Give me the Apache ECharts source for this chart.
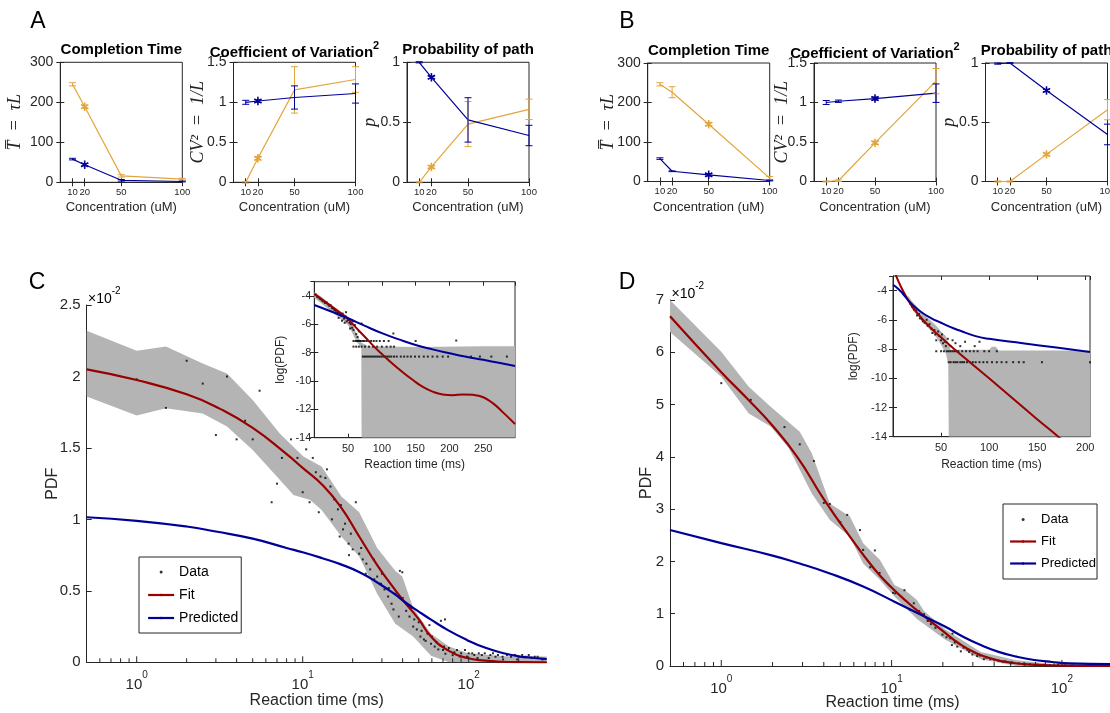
<!DOCTYPE html>
<html><head><meta charset="utf-8">
<script src="https://cdn.jsdelivr.net/npm/echarts@6.0.0/dist/echarts.min.js"></script>
<style>html,body{margin:0;padding:0;background:#fff}#c{width:1110px;height:713px}</style>
</head><body><div id="c"></div><script>
// ================= DATA =================
const conc = [10, 20, 50, 100];
const aTimeOrange = [245, 189, 16, 8],      aTimeOrangeErr = [4, 4, 3, 2];
const aTimeBlue   = [58, 44, 5, 2],         aTimeBlueErr   = [2, 3, 2, 1];
const aCvOrange   = [0, 0.30, 1.155, 1.285],aCvOrangeErr   = [0.01, 0.02, 0.29, 0.16];
const aCvBlue     = [1.0, 1.016, 1.06, 1.11], aCvBlueErr   = [0.025, 0.015, 0.145, 0.12];
const aPOrange    = [0, 0.128, 0.485, 0.608], aPOrangeErr  = [0.005, 0.01, 0.188, 0.085];
const aPBlue      = [1.0, 0.875, 0.52, 0.39], aPBlueErr    = [0.005, 0.01, 0.185, 0.085];
const bTimeOrange = [246, 226, 145, 8.5],   bTimeOrangeErr = [4, 14, 4, 4];
const bTimeBlue   = [58, 26, 17, 2.5],      bTimeBlueErr   = [2, 1, 3, 1];
const bCvOrange   = [0, 0.01, 0.489, 1.27], bCvOrangeErr   = [0.005, 0.01, 0.02, 0.16];
const bCvBlue     = [1.0, 1.016, 1.05, 1.118], bCvBlueErr  = [0.025, 0.015, 0.02, 0.117];
const bPOrange    = [0, 0, 0.229, 0.606],   bPOrangeErr    = [0.005, 0.005, 0.01, 0.085];
const bPBlue      = [0.995, 1.0, 0.768, 0.397], bPBlueErr  = [0.005, 0.003, 0.01, 0.087];
const starA = 1, starB = 2;

// Panel C main (x in ms, y in units of 1e-2)
const cFit = [[0.5,2.05],[1,1.975],[2,1.875],[3.16,1.775],[5,1.64],[7.94,1.46],[10,1.36],[13.3,1.235],[17.1,1.08],[21.9,0.88],[28.1,0.68],[36.1,0.505],[41.9,0.41],[50.1,0.3],[59.3,0.18],[75.9,0.08],[97.7,0.03],[126,0.012],[158,0.004],[200,0.001],[295,0]];
const cPred = [[0.5,1.015],[1,0.99],[2,0.95],[3,0.915],[5,0.865],[8,0.8],[10,0.77],[13,0.73],[17,0.685],[22,0.63],[28,0.56],[36,0.475],[42,0.415],[50,0.355],[59,0.3],[75,0.225],[98,0.155],[125,0.103],[160,0.065],[200,0.042],[250,0.03],[295,0.022]];
const cBandUp = [[0.5,2.32],[1,2.18],[1.5,2.21],[2.5,2.09],[3.5,2.02],[5,1.835],[7.3,1.6],[10.1,1.44],[13,1.37],[17.1,1.16],[21.9,1.05],[28.1,0.8],[36.1,0.64],[39.8,0.6],[46.3,0.38],[59.3,0.2],[76.2,0.11],[97.7,0.065],[161,0.042],[295,0.04]];
const cBandLo = [[0.5,1.86],[1,1.726],[1.5,1.777],[2.5,1.74],[3.5,1.65],[5,1.486],[7.3,1.276],[8.8,1.17],[11.1,1.136],[13,1.066],[17.1,0.88],[21.9,0.74],[28.1,0.48],[36.1,0.27],[46.3,0.18],[59.3,0.046],[76.2,0],[295,0]];
const cData = [[1,1.98],[1.5,1.78],[2,2.11],[2.5,1.95],[3,1.59],[3.5,2.0],[4,1.56],[4.5,1.69],[5,1.56],[5.5,1.9],[6.5,1.12],[7,1.25],[7.5,1.43],[8.5,1.56],[9.3,1.43],[10,1.19],[10.5,1.49],[11,1.12],[11.5,1.43],[12,1.33],[12.5,1.05],[12.8,1.3],
[13.7,1.29],[14,1.35],[14.7,1.23],[15,1.0],[15.5,1.14],[16.3,1.07],[16.7,0.88],[17,1.1],[17.5,0.93],[18,0.97],[18.9,0.83],[19,0.75],[19.5,0.9],[20,0.79],[20.9,1.12],[21.9,0.76],[22.5,0.8],[23,0.72],[24,0.62],[24.2,0.69],[25.5,0.65],[26.8,0.72],[27,0.58],[28.1,0.6],[29.6,0.55],[30,0.62],[31.1,0.51],[32.7,0.46],[33,0.52],[34.3,0.41],[35.2,0.37],[36,0.48],[37.9,0.32],[38.5,0.64],[39.8,0.63],[40,0.45],[41.9,0.41],[42,0.36],[44,0.32],[45,0.38],[46.3,0.25],[47,0.3],[48.7,0.23],[50,0.28],[51.2,0.18],[52,0.22],[53.7,0.16],[55,0.15],[56.5,0.2],[58,0.26],[59.3,0.13],[60,0.18],[62.4,0.11],[64,0.14],[65.6,0.09],[67,0.12],[68,0.29],[70,0.086],[71,0.11],[72,0.3],[72.4,0.06],[75,0.086],[76,0.1],[80.1,0.05],[82,0.07],[85,0.086],[88.4,0.04],[90,0.063],[95,0.086],[97.7,0.04],[100,0.063],[105,0.063],[108,0.051],[113,0.03],[115,0.063],[120,0.051],[125,0.063],[132,0.03],[135,0.051],[140,0.063],[145,0.039],[150,0.051],[160,0.039],[161,0.02],[170,0.051],[180,0.039],[190,0.051],[196,0.02],[200,0.039],[210,0.051],[220,0.039],[230,0.051],[239,0.03],[250,0.039],[260,0.039],[278,0.02]];

// Panel C inset (x in ms, y = log(PDF))
const icFit = [[0,-3.86],[20,-4.55],[40,-5.25],[50,-5.65],[60,-6.15],[75,-6.9],[90,-7.65],[100,-8.1],[115,-8.75],[130,-9.35],[145,-9.9],[160,-10.4],[175,-10.75],[190,-10.95],[205,-11.0],[220,-10.95],[235,-10.98],[250,-11.15],[265,-11.6],[280,-12.25],[297,-13.03]];
const icPred = [[0,-4.64],[25,-5.1],[50,-5.58],[75,-6.12],[100,-6.63],[125,-7.07],[150,-7.46],[175,-7.77],[200,-8.04],[225,-8.29],[250,-8.51],[275,-8.74],[297,-8.94]];
const icBandUp = [[0,-3.75],[10,-4.05],[20,-4.45],[30,-4.85],[40,-5.15],[50,-5.45],[55,-5.8],[60,-6.4],[65,-6.9],[70,-7.3],[80,-7.55],[150,-7.6],[250,-7.55],[297,-7.55]];
const icBandLo = [[0,-4.15],[10,-4.5],[20,-4.9],[30,-5.3],[40,-5.65],[50,-6.05],[55,-6.5],[60,-7.0],[65,-7.4],[69.5,-7.6],[70,-14],[297,-14]];
const icData = [[2,-3.9],[4,-4.05],[6,-4.1],[8,-4.2],[10,-4.25],[12,-4.35],[14,-4.4],[16,-4.5],[18,-4.45],[20,-4.6],[22,-4.7],[24,-4.65],[26,-4.85],[28,-4.9],[30,-5.0],[32,-5.05],[34,-5.2],[36,-5.15],[38,-5.3],[40,-5.4],[42,-5.25],[44,-5.6],[46,-5.45],[48,-5.8],[50,-5.7],[52,-5.9],[54,-6.0],[56,-6.25],[58,-6.4],[60,-6.05],[62,-6.7],[64,-6.9],[66,-6.5],[57,-5.8],[53,-6.3],[47,-5.15],[45,-5.9],[41,-5.75],[36,-5.55],[70,-5.95],[117,-6.65],[150,-7.18],[210,-7.15],
[58,-7.18],[61,-7.18],[63,-7.18],[65,-7.18],[67,-7.18],[69,-7.18],[72,-7.18],[74,-7.18],[77,-7.18],[80,-7.18],[84,-7.18],[88,-7.18],[92,-7.18],[97,-7.18],[103,-7.18],[110,-7.18],
[58,-7.58],[62,-7.58],[66,-7.58],[70,-7.58],[75,-7.58],[81,-7.58],[87,-7.58],[93,-7.58],[100,-7.58],[107,-7.58],[113,-7.58],[118,-7.58],
[72,-8.28],[75,-8.28],[78,-8.28],[81,-8.28],[84,-8.28],[87,-8.28],[90,-8.28],[93,-8.28],[96,-8.28],[99,-8.28],[102,-8.28],[105,-8.28],[108,-8.28],[111,-8.28],[114,-8.28],[118,-8.28],[122,-8.28],[128,-8.28],[133,-8.28],[138,-8.28],[143,-8.28],[149,-8.28],[155,-8.28],[162,-8.28],[168,-8.28],[175,-8.28],[182,-8.28],[190,-8.28],[198,-8.28],[232,-8.28],[245,-8.28],[262,-8.28],[285,-8.28]];

// Panel D main
const dFit = [[0.5,6.69],[1,5.62],[1.413,5.12],[1.995,4.6],[2.818,3.98],[3.981,3.2],[5.623,2.5],[7.943,1.85],[10,1.5],[12.59,1.2],[15.85,0.93],[19.95,0.67],[25.12,0.42],[31.62,0.24],[39.81,0.13],[50.12,0.065],[63.1,0.03],[100,0.008],[205,0]];
const dPred = [[0.5,2.6],[1,2.35],[1.95,2.12],[2.89,1.96],[4.34,1.77],[6.81,1.52],[10.4,1.23],[15.5,0.95],[20.7,0.75],[26.3,0.56],[33.4,0.4],[42.5,0.27],[54,0.18],[68.8,0.115],[87.5,0.077],[111,0.05],[205,0.035]];
const dBandUp = [[0.5,7.0],[1,6.01],[1.45,5.34],[1.95,4.96],[2.89,4.48],[3.4,4.07],[4.34,3.11],[5.69,2.86],[6.81,2.35],[8.53,2.03],[10.4,1.55],[12,1.45],[14.1,1.26],[15.5,1.05],[20.7,0.7],[33.4,0.27],[54,0.11],[87.5,0.04],[205,0.03]];
const dBandLo = [[0.5,6.39],[1,5.53],[1.45,4.83],[1.95,4.58],[2.5,4.16],[3.4,3.3],[4.34,2.79],[5.69,2.47],[6.81,1.96],[8.53,1.65],[10.4,1.33],[14.1,0.9],[20.7,0.5],[33.4,0.13],[54,0],[205,0]];
const dData = [[1,5.41],[1.49,5.09],[2.35,4.57],[2.89,4.24],[3.5,3.92],[4,3.12],[4.34,3.1],[5,2.75],[5.49,2.89],[6.52,2.6],[6.81,2.22],[7.5,1.89],[7.98,2.21],[8.5,1.78],[10.2,1.4],[10.5,1.39],[11.9,1.45],[12.8,1.08],[13.5,1.2],[14.5,1.05],[15.5,0.99],[16.3,0.86],[17,0.8],[18.1,0.73],[19.9,0.6],[21,0.55],[22.1,0.53],[22.6,0.4],[22.8,0.62],[23.5,0.45],[24.3,0.37],[25.5,0.28],[26.5,0.35],[27.9,0.31],[28.5,0.27],[29.8,0.22],[31.8,0.19],[33,0.2],[34.8,0.13],[36,0.16],[38,0.13],[40,0.12],[42.5,0.1],[45,0.08],[46.5,0.09],[50,0.06],[51,0.07],[55.8,0.05],[60,0.04],[61,0.03],[65,0.03],[68.8,0.02],[72,0.025],[78,0.02],[85,0.015],[95,0.02],[104,0.01],[115,0.01],[137,0.01],[150,0.008],[170,0.01],[190,0.005]];

// Panel D inset
const idFit = [[2.8,-2.92],[8,-3.7],[14,-4.45],[20,-5.1],[26,-5.6],[32,-6.05],[40,-6.6],[50,-7.2],[63.6,-8.0],[100,-10.0],[150,-12.8],[172,-14.0],[205,-15.85]];
const idPred = [[0,-3.6],[5,-3.85],[10,-4.2],[15,-4.6],[20,-4.95],[30,-5.5],[40,-5.9],[50,-6.2],[60,-6.5],[70,-6.75],[85,-7.1],[100,-7.3],[135,-7.6],[170,-7.9],[205,-8.2]];
const idBandUp = [[15,-4.3],[20,-4.75],[25,-5.1],[30,-5.5],[35,-5.8],[40,-6.1],[45,-6.4],[50,-6.8],[55,-7.1],[57,-7.5],[60,-8.05],[100,-8.05],[103,-7.85],[107,-7.85],[110,-8.1],[205,-8.1]];
const idBandLo = [[15,-4.6],[20,-5.3],[30,-6.1],[40,-6.8],[45,-7.2],[50,-7.7],[55,-8.3],[57.5,-9.0],[58,-14],[205,-14]];
const idData = [[18,-4.9],[20,-5.1],[22,-5.3],[24,-5.4],[25,-5.7],[27,-5.6],[28,-5.9],[30,-5.95],[31,-6.1],[33,-6.2],[35,-6.0],[36,-6.4],[38,-6.3],[40,-6.6],[41,-6.9],[43,-6.7],[44,-7.0],[45,-7.4],[47,-6.8],[48,-7.1],[50,-7.4],[51,-7.0],[52,-7.6],[54,-7.5],[55,-7.8],[57,-7.3],[60,-7.8],[62,-7.4],[65,-7.6],[70,-7.8],[75,-7.5],[85,-7.8],[90,-7.5],
[45,-8.15],[50,-8.15],[53,-8.15],[56,-8.15],[58,-8.15],[60,-8.15],[62,-8.15],[64,-8.15],[66,-8.15],[68,-8.15],[72,-8.15],[76,-8.15],[80,-8.15],[84,-8.15],[88,-8.15],[95,-8.15],[100,-8.15],[108,-8.15],
[58,-8.9],[60,-8.9],[63,-8.9],[65,-8.9],[67,-8.9],[70,-8.9],[72,-8.9],[74,-8.9],[77,-8.9],[80,-8.9],[83,-8.9],[86,-8.9],[90,-8.9],[94,-8.9],[98,-8.9],[103,-8.9],[108,-8.9],[113,-8.9],[118,-8.9],[125,-8.9],[131,-8.9],[136,-8.9],[155,-8.9],[205,-8.9]];

const logMajor = [1, 10, 100];
const logMinor = [0.6,0.7,0.8,0.9,2,3,4,5,6,7,8,9,20,30,40,50,60,70,80,90,200];

// ================= STYLE / BUILD =================
const FONT = '"Liberation Sans", Arial, Helvetica, sans-serif';
const SERIF = '"Liberation Serif", "DejaVu Serif", serif';
const AX = '#262626', ORANGE = '#E3A53A', BLUE = '#000099', RED = '#990000', BAND = '#b4b4b4';

function merge(a, b) {
  for (const k in b) {
    if (b[k] && typeof b[k] === 'object' && !Array.isArray(b[k]) && a[k] && typeof a[k] === 'object') merge(a[k], b[k]);
    else a[k] = b[k];
  }
  return a;
}
const grids = [], xAxis = [], yAxis = [], series = [], graphic = [];

function baseAxis(extra) {
  return merge({
    nameMoveOverlap: false,
    axisLine: {show: true, onZero: false, lineStyle: {color: AX, width: 1}},
    axisTick: {show: true, inside: true, length: 4, lineStyle: {color: AX, width: 1}},
    axisLabel: {color: AX, fontFamily: FONT},
    splitLine: {show: false},
    nameTextStyle: {color: AX, fontFamily: FONT}
  }, extra);
}
function mirror(ax, pos) {
  return {gridIndex: ax.gridIndex, type: ax.type, min: ax.min, max: ax.max, interval: ax.interval, position: pos, z: ax.z,
    nameMoveOverlap: false, axisLine: {show: false},
    axisTick: {show: true, inside: true, length: ax.axisTick.length, lineStyle: {color: AX, width: 1}, customValues: ax.axisTick.customValues},
    axisLabel: {show: false}, splitLine: {show: false}};
}
function panel(o) {
  const g = grids.length;
  grids.push({left: o.left, top: o.top, width: o.width, height: o.height, show: !!o.box, borderColor: AX, borderWidth: 1,
    containLabel: false, outerBoundsMode: 'none',
    backgroundColor: o.box ? '#fff' : 'transparent', z: o.z || 0});
  const xi = xAxis.length, yi = yAxis.length;
  const xa = baseAxis(merge({gridIndex: g, position: 'bottom', z: o.z || 0}, o.x));
  const ya = baseAxis(merge({gridIndex: g, position: 'left', z: o.z || 0}, o.y));
  xAxis.push(xa); yAxis.push(ya);
  if (o.box) { xAxis.push(mirror(xa, 'top')); yAxis.push(mirror(ya, 'right')); }
  return {xi, yi};
}

function errorSeries(ax, ys, errs, color, starIdx) {
  return {type: 'custom', xAxisIndex: ax.xi, yAxisIndex: ax.yi, z: 4, silent: true, clip: false,
    data: conc.map((c, i) => [c, ys[i], errs[i], i === starIdx ? 1 : 0]),
    renderItem: function (params, api) {
      const x = api.value(0), y = api.value(1), e = api.value(2);
      const p = api.coord([x, y]), t = api.coord([x, y + e]), b = api.coord([x, y - e]);
      const cw = 3.5;
      const ch = [
        {type: 'line', shape: {x1: p[0], y1: t[1], x2: p[0], y2: b[1]}, style: {stroke: color, lineWidth: 1}},
        {type: 'line', shape: {x1: p[0] - cw, y1: t[1], x2: p[0] + cw, y2: t[1]}, style: {stroke: color, lineWidth: 1}},
        {type: 'line', shape: {x1: p[0] - cw, y1: b[1], x2: p[0] + cw, y2: b[1]}, style: {stroke: color, lineWidth: 1}}
      ];
      if (api.value(3)) {
        const r = 4.2;
        [0, 60, 120].forEach(function (a) {
          const rad = a * Math.PI / 180;
          ch.push({type: 'line', shape: {x1: p[0] - r * Math.sin(rad), y1: p[1] - r * Math.cos(rad), x2: p[0] + r * Math.sin(rad), y2: p[1] + r * Math.cos(rad)},
            style: {stroke: color, lineWidth: 1.6}});
        });
      }
      return {type: 'group', children: ch};
    }};
}
function lineSeries(ax, data, color, width, z, name, smooth) {
  return {type: 'line', name: name, xAxisIndex: ax.xi, yAxisIndex: ax.yi, data: data, symbol: 'none', showSymbol: false,
    smooth: smooth || false, lineStyle: {color: color, width: width}, itemStyle: {color: color}, z: z, silent: true};
}
function bandSeries(ax, upper, lower, z) {
  return {type: 'custom', xAxisIndex: ax.xi, yAxisIndex: ax.yi, z: z, silent: true, clip: true,
    data: [upper[0]],
    renderItem: function (params, api) {
      const pts = upper.map(p => api.coord(p)).concat(lower.slice().reverse().map(p => api.coord(p)));
      return {type: 'polygon', shape: {points: pts}, style: {fill: BAND}};
    }};
}
function dotSeries(ax, data, z, name) {
  return {type: 'scatter', name: name, xAxisIndex: ax.xi, yAxisIndex: ax.yi, data: data, symbol: 'rect', symbolSize: 2,
    itemStyle: {color: '#000'}, z: z, silent: true};
}
function logTickSeries(ax, majors, minors) {
  const data = majors.map(v => [v, 1]).concat(minors.map(v => [v, 0]));
  return {type: 'custom', xAxisIndex: ax.xi, yAxisIndex: ax.yi, silent: true, clip: false, z: 6, data: data,
    renderItem: function (params, api) {
      const p = api.coord([api.value(0), 0]);
      const len = api.value(1) ? 6 : 4;
      return {type: 'line', shape: {x1: p[0], y1: p[1], x2: p[0], y2: p[1] - len}, style: {stroke: AX, lineWidth: 1}};
    }};
}
function text(x, y, str, opts) {
  graphic.push(merge({type: 'text', x: x, y: y, z: 30, style: {text: str, fill: '#000', font: '15px ' + FONT, align: 'center', verticalAlign: 'middle'}}, opts || {}));
}

// ---- top small panels ----
function topPanel(left, top, height, yMax, yInt, yName, nameGap, oVals, oErr, bVals, bErr, star, title, titleRich) {
  const ax = panel({left: left, top: top, width: 122, height: height, box: true,
    x: {type: 'value', min: 0, max: 100,
        axisTick: {customValues: conc}, axisLabel: {customValues: conc, fontSize: 9.5, margin: 5},
        name: 'Concentration (uM)', nameLocation: 'middle', nameGap: 19, nameTextStyle: {fontSize: 13}},
    y: {type: 'value', min: 0, max: yMax, interval: yInt,
        axisLabel: {fontSize: 14, margin: 7},
        name: yName, nameLocation: 'middle', nameGap: nameGap,
        nameTextStyle: {fontFamily: SERIF, fontStyle: 'italic', fontSize: 18, color: '#222'}}});
  series.push(lineSeries(ax, conc.map((c, i) => [c, oVals[i]]), ORANGE, 1.2, 3));
  series.push(lineSeries(ax, conc.map((c, i) => [c, bVals[i]]), BLUE, 1.2, 3));
  series.push(errorSeries(ax, oVals, oErr, ORANGE, star));
  series.push(errorSeries(ax, bVals, bErr, BLUE, star));
  text(left + 61, top - 12, title, {style: {font: 'bold 15px ' + FONT, rich: titleRich}});
}
const supRich = {t: {fontWeight: 'bold', fontSize: 15, fontFamily: FONT, lineHeight: 20, verticalAlign: 'bottom'},
                 s: {fontWeight: 'bold', fontSize: 11, fontFamily: FONT, lineHeight: 11, verticalAlign: 'top'}};
const yT = 'T\u0305  =  \u03C4L', yCV = 'CV\u00B2  =  1/L', yP = 'p';
topPanel(60.3, 62.3, 120, 300, 100, yT, 36, aTimeOrange, aTimeOrangeErr, aTimeBlue, aTimeBlueErr, starA, 'Completion Time');
topPanel(233.5, 62.3, 120, 1.5, 0.5, yCV, 26, aCvOrange, aCvOrangeErr, aCvBlue, aCvBlueErr, starA, '{t|Coefficient of Variation}{s|2}', supRich);
topPanel(407, 62.3, 120, 1, 0.5, yP, 28, aPOrange, aPOrangeErr, aPBlue, aPBlueErr, starA, 'Probability of path');
topPanel(647.7, 63, 118.5, 300, 100, yT, 30, bTimeOrange, bTimeOrangeErr, bTimeBlue, bTimeBlueErr, starB, 'Completion Time');
topPanel(814, 63, 118.5, 1.5, 0.5, yCV, 23, bCvOrange, bCvOrangeErr, bCvBlue, bCvBlueErr, starB, '{t|Coefficient of Variation}{s|2}', supRich);
topPanel(985.5, 63, 118.5, 1, 0.5, yP, 27, bPOrange, bPOrangeErr, bPBlue, bPBlueErr, starB, 'Probability of path');

// ---- main panels ----
const logRich = {b: {fontSize: 15, fontFamily: FONT, color: AX, lineHeight: 22, verticalAlign: 'bottom'},
                 s: {fontSize: 10, fontFamily: FONT, color: AX, lineHeight: 10, verticalAlign: 'top'}};
function logFmt(v) {
  const l = Math.log10(v);
  if (Math.abs(l - Math.round(l)) < 1e-6) return '{b|10}{s|' + Math.round(l) + '}';
  return '';
}
function mainPanel(left, top, width, height, xMax, yMax, yInt, yGap, xGap) {
  return panel({left: left, top: top, width: width, height: height, box: false,
    x: {type: 'log', logBase: 10, min: 0.5, max: xMax, axisTick: {show: false},
        axisLabel: {formatter: logFmt, rich: logRich, margin: 8},
        name: 'Reaction time (ms)', nameLocation: 'middle', nameGap: xGap, nameTextStyle: {fontSize: 16}},
    y: {type: 'value', min: 0, max: yMax, interval: yInt, axisTick: {length: 5},
        axisLabel: {fontSize: 15, margin: 6},
        name: 'PDF', nameLocation: 'middle', nameGap: yGap, nameTextStyle: {fontSize: 16}}});
}
function insetPanel(left, top, width, height, xMax, nameGapY, labelMargin, nameGapX) {
  return panel({left: left, top: top, width: width, height: height, box: true, z: 5,
    x: {type: 'value', min: 0, max: xMax, interval: 50,
        axisLabel: {fontSize: 11, margin: 6, showMinLabel: false, showMaxLabel: false},
        name: 'Reaction time (ms)', nameLocation: 'middle', nameGap: nameGapX, nameTextStyle: {fontSize: 12}},
    y: {type: 'value', min: -14, max: -3, interval: 2,
        axisLabel: {fontSize: 11, margin: labelMargin, showMaxLabel: false},
        name: 'log(PDF)', nameLocation: 'middle', nameGap: nameGapY, nameTextStyle: {fontSize: 12}}});
}

// C
const cAx = mainPanel(86.7, 305, 460, 357.3, 295, 2.5, 0.5, 26, 30);
series.push(bandSeries(cAx, cBandUp, cBandLo, 1));
series.push(dotSeries(cAx, cData, 3, 'Data'));
series.push(lineSeries(cAx, cFit, RED, 2.2, 4, 'Fit', 0.5));
series.push(lineSeries(cAx, cPred, BLUE, 2.2, 4, 'Predicted', 0.5));
series.push(logTickSeries(cAx, logMajor, logMinor));
const icAx = insetPanel(314.3, 281.7, 200.7, 156, 297, 28, 3, 21);
series.push(bandSeries(icAx, icBandUp, icBandLo, 7));
series.push(dotSeries(icAx, icData, 8));
series.push(lineSeries(icAx, icFit, RED, 2, 9, null, 0.5));
series.push(lineSeries(icAx, icPred, BLUE, 2, 9, null, 0.5));

// D
const dAx = mainPanel(670, 300, 445, 366, 205, 7, 1, 15, 29);
series.push(bandSeries(dAx, dBandUp, dBandLo, 1));
series.push(dotSeries(dAx, dData, 3));
series.push(lineSeries(dAx, dFit, RED, 2.2, 4, null, 0.5));
series.push(lineSeries(dAx, dPred, BLUE, 2.2, 4, null, 0.5));
series.push(logTickSeries(dAx, logMajor, logMinor));
const idAx = insetPanel(893, 276, 197, 160.7, 205, 33, 6, 22);
series.push(bandSeries(idAx, idBandUp, idBandLo, 7));
series.push(dotSeries(idAx, idData, 8));
series.push(lineSeries(idAx, idFit, RED, 2, 9, null, 0.4));
series.push(lineSeries(idAx, idPred, BLUE, 2, 9, null, 0.5));

// labels
text(38, 22, 'A', {style: {font: '23px ' + FONT}});
text(627, 22, 'B', {style: {font: '23px ' + FONT}});
text(37, 283, 'C', {style: {font: '23px ' + FONT}});
text(627, 283, 'D', {style: {font: '23px ' + FONT}});
const expRich = {b: {fontSize: 14, fontFamily: FONT, color: AX, lineHeight: 20, verticalAlign: 'bottom'},
                 s: {fontSize: 10, fontFamily: FONT, color: AX, lineHeight: 10, verticalAlign: 'top'}};
text(88, 296, '{b|\u00D710}{s|-2}', {style: {align: 'left', rich: expRich}});
text(671.5, 291.5, '{b|\u00D710}{s|-2}', {style: {align: 'left', rich: expRich}});

function legendAt(left, top, fs, pad) {
  return {data: [{name: 'Data', icon: 'circle'}, {name: 'Fit'}, {name: 'Predicted'}], orient: 'vertical', left: left, top: top,
    itemWidth: 26, itemHeight: 3, itemGap: 9, padding: pad, borderColor: AX, borderWidth: 1, borderRadius: 0,
    backgroundColor: '#fff', lineStyle: {width: 2.2}, textStyle: {fontSize: fs, fontFamily: FONT, color: '#000'},
    selectedMode: false, z: 20};
}

const chart = echarts.init(document.getElementById('c'), null, {renderer: 'canvas', width: 1110, height: 713});
chart.setOption({
  animation: false,
  backgroundColor: '#fff',
  textStyle: {fontFamily: FONT},
  grid: grids, xAxis: xAxis, yAxis: yAxis, series: series, graphic: graphic,
  legend: [legendAt(139, 557, 14, [8, 3, 8, 8]), legendAt(1003, 504, 13, [9, 1, 9, 6])]
});
</script></body></html>
